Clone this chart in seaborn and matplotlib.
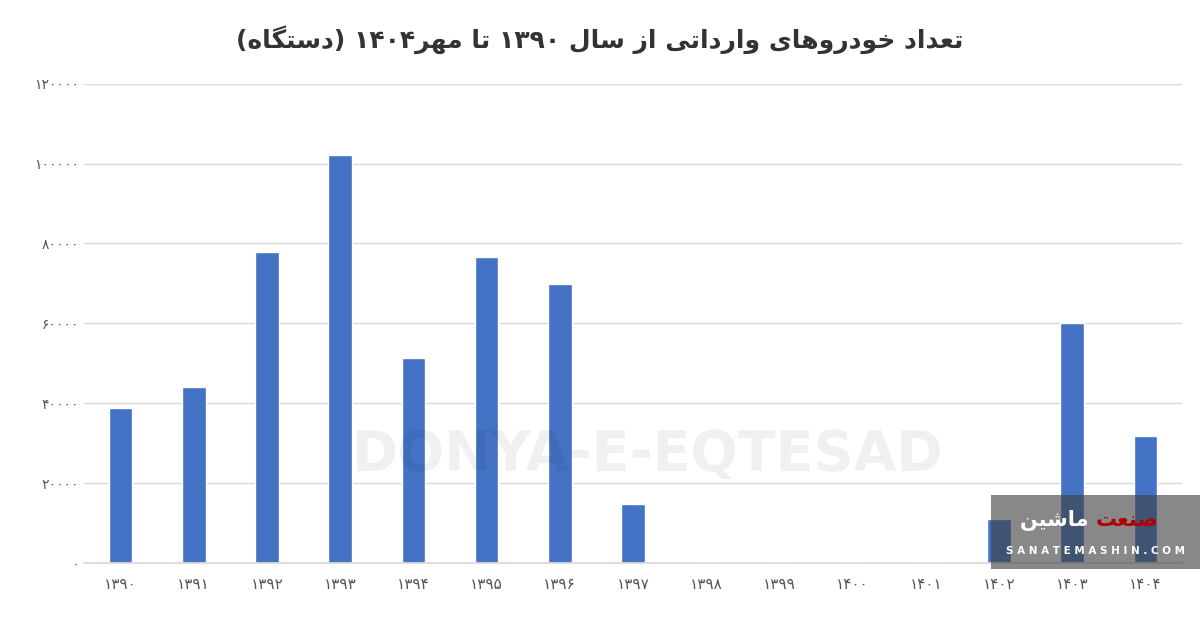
import matplotlib
matplotlib.use("Agg")
import matplotlib.pyplot as plt
import seaborn as sns
import pandas as pd
from matplotlib.patches import Rectangle

years = ["1390","1391","1392","1393","1394","1395","1396","1397","1398","1399","1400","1401","1402","1403","1404"]
values = [38800, 44100, 77900, 102200, 51400, 76700, 69900, 14800, 0, 0, 0, 300, 11000, 60000, 31800]
yticks = [0, 20000, 40000, 60000, 80000, 100000, 120000]

FA = str.maketrans("0123456789", "۰۱۲۳۴۵۶۷۸۹")
def fa(s): return str(s).translate(FA)

FORMS = {
 'ا': ('\uFE8D','\uFE8E',None,None), 'د': ('\uFEA9','\uFEAA',None,None),
 'و': ('\uFEED','\uFEEE',None,None), 'ر': ('\uFEAD','\uFEAE',None,None),
 'ز': ('\uFEAF','\uFEB0',None,None),
 'ت': ('\uFE95','\uFE96','\uFE97','\uFE98'), 'ع': ('\uFEC9','\uFECA','\uFECB','\uFECC'),
 'خ': ('\uFEA5','\uFEA6','\uFEA7','\uFEA8'), 'ه': ('\uFEE9','\uFEEA','\uFEEB','\uFEEC'),
 'ی': ('\uFBFC','\uFBFD','\uFBFE','\uFBFF'), 'س': ('\uFEB1','\uFEB2','\uFEB3','\uFEB4'),
 'ل': ('\uFEDD','\uFEDE','\uFEDF','\uFEE0'), 'م': ('\uFEE1','\uFEE2','\uFEE3','\uFEE4'),
 'ن': ('\uFEE5','\uFEE6','\uFEE7','\uFEE8'), 'گ': ('\uFB92','\uFB93','\uFB94','\uFB95'),
 'ش': ('\uFEB5','\uFEB6','\uFEB7','\uFEB8'), 'ص': ('\uFEB9','\uFEBA','\uFEBB','\uFEBC'),
}
def dual(c): return c in FORMS and FORMS[c][2] is not None
def vis(word):
    out = []
    for i, c in enumerate(word):
        if c not in FORMS:
            out.append(c); continue
        p = word[i-1] if i > 0 else None
        n = word[i+1] if i < len(word)-1 else None
        jp = p is not None and dual(p)
        jn = n is not None and dual(c) and n in FORMS
        f = FORMS[c]
        out.append(f[3] if jp and jn else f[1] if jp else f[2] if jn else f[0])
    return "".join(reversed(out))

title = ("(" + vis("دستگاه") + ") " + fa("1404") + vis("مهر") + " " + vis("تا") + " " + fa("1390") + " "
         + vis("سال") + " " + vis("از") + " " + vis("وارداتی") + " " + vis("خودروهای") + " " + vis("تعداد"))

sns.set_theme(style="whitegrid")
plt.rcParams['font.family'] = ['DejaVu Sans']
df = pd.DataFrame({"year": [fa(y) for y in years], "value": values})
fig, ax = plt.subplots(figsize=(12, 6.19), dpi=100)
fig.subplots_adjust(left=0.07, right=0.985, top=0.865, bottom=0.09)
sns.barplot(data=df, x="year", y="value", color="#4472C4", saturation=1, width=0.32, ax=ax)
ax.set_ylim(0, 120000)
ax.set_yticks(yticks)
ax.set_yticklabels([fa(t) for t in yticks], fontsize=10, color="#555555")
ax.tick_params(axis='x', labelsize=11, colors="#555555", length=0, pad=10)
ax.tick_params(axis='y', length=0)
ax.set_xlabel(""); ax.set_ylabel("")
ax.grid(axis='y', color="#d9d9d9", linewidth=1)
ax.grid(axis='x', visible=False)
for s in ["top", "right", "left"]:
    ax.spines[s].set_visible(False)
ax.spines["bottom"].set_color("#d9d9d9")
fig.suptitle(title, fontsize=18, color="#333333", fontweight="bold", y=0.96)
fig.text(0.54, 0.24, "DONYA-E-EQTESAD", fontsize=40, fontweight="bold", color="#000000", alpha=0.06, ha="center")
fig.patches.append(Rectangle((0.826, 0.08), 0.174, 0.12, transform=fig.transFigure,
                             facecolor="#404040", alpha=0.62, edgecolor="none", zorder=5))
fig.text(0.913, 0.15, vis("ماشین") + " ", fontsize=15, color="white", ha="right", fontweight="bold", zorder=6)
fig.text(0.913, 0.15, vis("صنعت"), fontsize=15, color="#b00000", ha="left", fontweight="bold", zorder=6)
fig.text(0.913, 0.105, "S A N A T E M A S H I N . C O M", fontsize=7.5, color="white", ha="center", fontweight="bold", zorder=6)
fig.savefig("out.png")
